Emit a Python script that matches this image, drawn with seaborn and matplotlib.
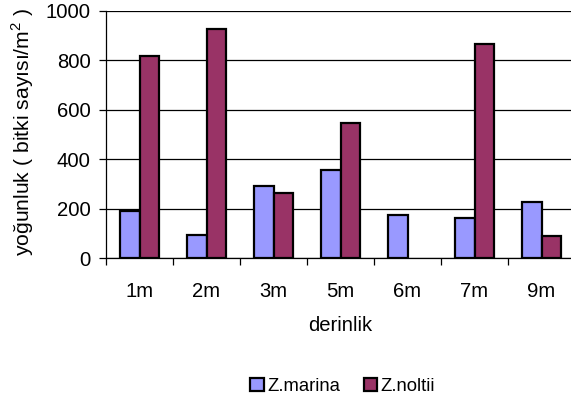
import matplotlib
matplotlib.use("Agg")
import matplotlib.pyplot as plt
from matplotlib.ticker import FixedLocator
from matplotlib.patches import Patch
import pandas as pd
import seaborn as sns

depths = ["1m", "2m", "3m", "5m", "6m", "7m", "9m"]
z_marina = [191, 94, 293, 356, 175, 162, 228]
z_noltii = [816, 927, 264, 547, 0, 866, 90]
series_names = ["Z.marina", "Z.noltii"]
y_ticks = [0, 200, 400, 600, 800, 1000]

df = pd.DataFrame({
    "derinlik": depths * 2,
    "value": z_marina + z_noltii,
    "species": [series_names[0]] * len(depths) + [series_names[1]] * len(depths),
})

sns.set_style("white")
plt.rcParams["font.family"] = ["Liberation Sans", "DejaVu Sans"]
plt.rcParams["mathtext.fontset"] = "custom"
plt.rcParams["mathtext.rm"] = "Liberation Sans"
for key in ["text.color", "axes.labelcolor", "xtick.color", "ytick.color"]:
    plt.rcParams[key] = "black"

colors = {"Z.marina": "#9999FF", "Z.noltii": "#993366"}
fs = 14.6
fs_ylabel = 15.2
fs_legend = 13.3

fig = plt.figure(figsize=(5.71, 4.01), dpi=100)
ax = fig.add_axes([106 / 571, 1 - 258 / 401, 469 / 571, 247 / 401])

sns.barplot(data=df, x="derinlik", y="value", hue="species", palette=colors,
            width=0.58, dodge=True, edgecolor="black", linewidth=1.6,
            saturation=1, legend=False, ax=ax, zorder=3)

# empty bars leave no outline on the baseline
for bar in ax.patches:
    if bar.get_height() == 0:
        bar.set_visible(False)

ax.set_xlim(-0.5, len(depths) - 0.5)
ax.set_ylim(0, 1000)
ax.set_yticks(y_ticks)
ax.yaxis.grid(True, color="black", linewidth=0.9, zorder=0)
ax.set_axisbelow(True)

for side in ["top", "right"]:
    ax.spines[side].set_visible(False)
ax.spines["left"].set_color("black")
ax.spines["bottom"].set_color("black")
ax.spines["left"].set_linewidth(0.9)
ax.spines["bottom"].set_linewidth(0.9)

ax.tick_params(axis="y", which="major", length=5, width=0.9, color="black",
               direction="out", pad=6, labelsize=fs, left=True)
ax.tick_params(axis="x", which="major", length=0, pad=17, labelsize=fs)
ax.xaxis.set_minor_locator(FixedLocator([i - 0.5 for i in range(len(depths) + 1)]))
ax.tick_params(axis="x", which="minor", length=5, width=0.9, color="black",
               direction="out", bottom=True)

ax.set_xlabel("derinlik", fontsize=fs, labelpad=11)
ax.set_ylabel("yoğunluk ( bitki sayısı/m$^2$ )", fontsize=fs_ylabel)
ax.yaxis.set_label_coords(-0.149, 0.51)

handles = [Patch(facecolor=colors[n], edgecolor="black", linewidth=1.6, label=n)
           for n in series_names]
fig.legend(handles=handles, loc="center", bbox_to_anchor=(0.6, 0.036), ncol=2,
           frameon=False, fontsize=fs_legend, handlelength=0.72, handleheight=0.72,
           handletextpad=0.18, columnspacing=1.3)

fig.savefig("out.png", dpi=100)
